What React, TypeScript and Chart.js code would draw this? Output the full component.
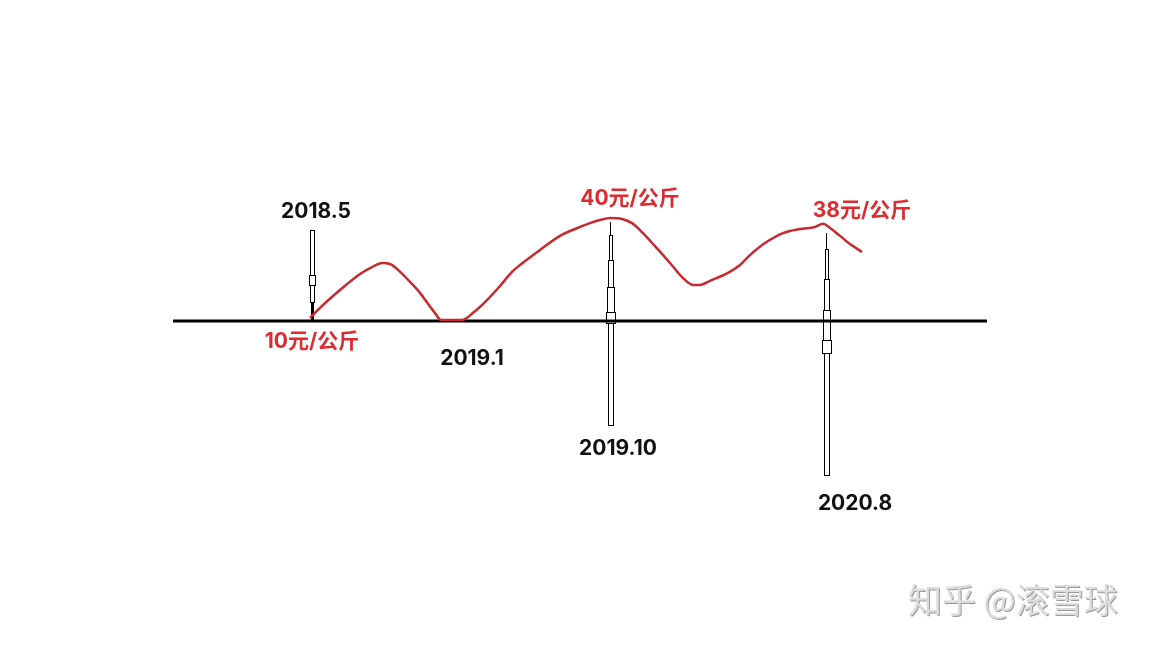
import React, { useEffect, useRef } from "react";
import { Chart, registerables } from "chart.js";

Chart.register(...registerables);

// Timeline positions (horizontal units of the sketch) and prices (元/公斤)
const curveX = [310, 322, 333, 346, 360, 372, 382, 390, 398, 410, 420, 428, 435, 441, 462, 474, 487, 500, 512, 520, 540, 560, 575, 590, 600, 610, 622, 632, 643, 655, 670, 682, 693, 700, 710, 728, 740, 750, 765, 783, 800, 815, 823, 830, 840, 850, 862];
const curvePrice = [10.9, 14.4, 17.3, 20.5, 23.7, 25.7, 26.9, 26.6, 24.9, 21.4, 18.2, 15.0, 12.3, 10.3, 10.3, 12.6, 16.1, 20.2, 24.3, 26.3, 30.7, 34.8, 36.8, 38.5, 39.4, 40.0, 39.7, 38.5, 35.6, 31.8, 26.9, 22.8, 20.5, 20.5, 21.7, 24.0, 26.3, 29.2, 32.7, 35.6, 36.8, 37.4, 38.3, 37.1, 34.8, 32.4, 30.1];

const baseLineX = [173, 987];
const baseLinePrice = [10, 10];

// Date markers: label, timeline position
const markerLabels = ["2018.5", "2019.10", "2020.8"];
const markerX = [312, 610, 826];
// segments per marker: [topPrice, bottomPrice]
const markerSegments = [
  [[36.5, 23.4], [23.4, 20.5], [20.5, 15.5], [15.5, 10]],
  [[38.8, 35.0], [35.0, 27.8], [27.8, 19.9], [19.9, 12.6], [12.6, 9.4], [9.4, -20.3]],
  [[35.6, 31.0], [31.0, 22.2], [22.2, 13.2], [13.2, 4.5], [4.5, 0.7], [0.7, -34.9]],
];
const markerWidths = [
  [4, 6, 4, -3],
  [0, 3, 5, 7, 9, 5],
  [0, 3, 5, 7, 9, 5],
];

// Text annotations: text, timeline position, price position, colour kind
const noteTexts = ["2018.5", "10元/公斤", "2019.1", "40元/公斤", "2019.10", "38元/公斤", "2020.8"];
const noteX = [316, 312, 472, 630, 618, 862, 855];
const noteY = [41.7, 3.9, -1.1, 45.5, -27.3, 42.0, -43.3];
const noteRed = [false, true, false, true, false, true, false];

const Y_MIN = 10 - 327 / (103 / 30);
const Y_MAX = 10 + 321 / (103 / 30);

const sketchPlugin = {
  id: "sketch",
  beforeDatasetsDraw(chart: any) {
    const ctx = chart.ctx;
    const xs = chart.scales.x;
    const ys = chart.scales.y;
    ctx.save();
    markerX.forEach((mx, i) => {
      const cx = Math.round(xs.getPixelForValue(mx));
      markerSegments[i].forEach((seg, j) => {
        const w = markerWidths[i][j];
        const top = Math.round(ys.getPixelForValue(seg[0]));
        const bot = Math.round(ys.getPixelForValue(seg[1]));
        if (w === 0) {
          ctx.strokeStyle = "#000";
          ctx.lineWidth = 1;
          ctx.beginPath();
          ctx.moveTo(cx + 0.5, top);
          ctx.lineTo(cx + 0.5, bot);
          ctx.stroke();
        } else if (w < 0) {
          ctx.fillStyle = "#000";
          ctx.fillRect(cx - 1, top, -w, bot - top);
        } else {
          const left = cx - Math.floor(w / 2);
          ctx.fillStyle = "#fff";
          ctx.fillRect(left, top, w + 1, bot - top);
          ctx.strokeStyle = "#000";
          ctx.lineWidth = 1;
          ctx.strokeRect(left + 0.5, top + 0.5, w, bot - top);
        }
      });
    });
    ctx.restore();
  },
  afterDatasetsDraw(chart: any) {
    const ctx = chart.ctx;
    const xs = chart.scales.x;
    const ys = chart.scales.y;
    ctx.save();
    ctx.textAlign = "center";
    ctx.textBaseline = "middle";
    ctx.font = 'bold 21px Inter, "Noto Sans CJK SC", sans-serif';
    noteTexts.forEach((t, i) => {
      ctx.fillStyle = noteRed[i] ? "#df2a2f" : "#111";
      ctx.fillText(t, xs.getPixelForValue(noteX[i]), ys.getPixelForValue(noteY[i]));
    });
    // watermark
    ctx.font = '34px "Noto Sans CJK SC", sans-serif';
    ctx.textAlign = "left";
    ctx.fillStyle = "#9a9a9a";
    ctx.fillText("知乎 @滚雪球", 909, 601);
    ctx.fillStyle = "#dcdcdc";
    ctx.fillText("知乎 @滚雪球", 908, 600);
    ctx.restore();
  },
};

export default function App() {
  const ref = useRef<HTMLCanvasElement | null>(null);
  useEffect(() => {
    document.body.style.margin = "0";
    document.body.style.background = "#fff";
    const canvas = ref.current;
    if (!canvas) return;
    const chart = new Chart(canvas, {
      type: "line",
      data: {
        datasets: [
          {
            label: "price",
            data: curveX.map((x, i) => ({ x, y: curvePrice[i] })),
            borderColor: "#c9282e",
            borderWidth: 2.5,
            tension: 0.4,
            cubicInterpolationMode: "monotone",
            pointRadius: 0,
            fill: false,
          },
          {
            label: "axis",
            data: baseLineX.map((x, i) => ({ x, y: baseLinePrice[i] })),
            borderColor: "#000",
            borderWidth: 3,
            pointRadius: 0,
            fill: false,
          },
        ],
      },
      options: {
        responsive: false,
        animation: false,
        layout: { padding: 0 },
        scales: {
          x: { type: "linear", min: 0, max: 1152, display: false },
          y: { type: "linear", min: Y_MIN, max: Y_MAX, display: false },
        },
        plugins: { legend: { display: false }, tooltip: { enabled: false } },
      },
      plugins: [sketchPlugin],
    } as any);
    return () => chart.destroy();
  }, []);
  return <canvas ref={ref} width={1152} height={648} style={{ display: "block" }} />;
}
